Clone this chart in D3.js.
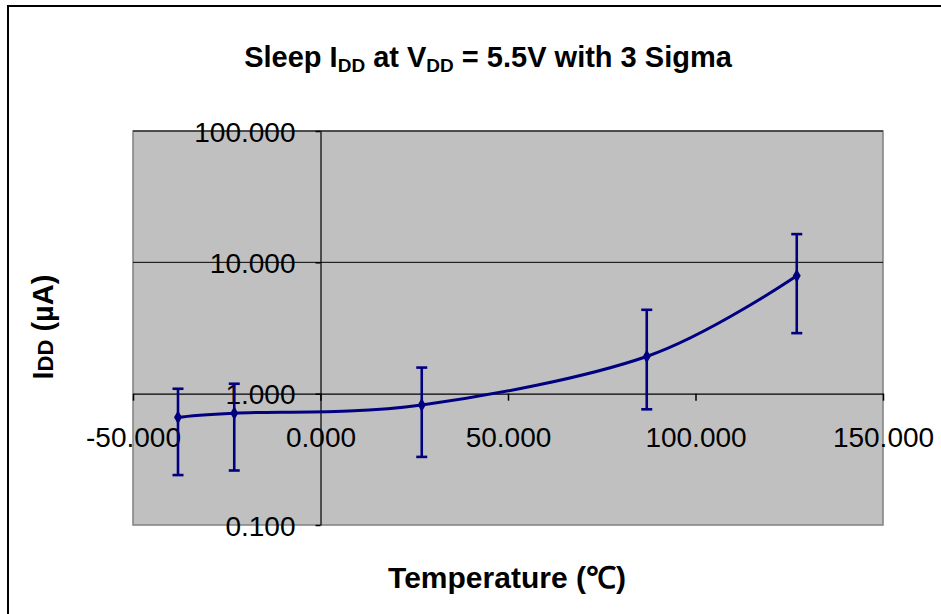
<!DOCTYPE html>
<html>
<head>
<meta charset="utf-8">
<script src="https://cdn.jsdelivr.net/npm/d3@7"></script>
<style>
  body { margin: 0; background: #fff; }
  svg { font-family: "Liberation Sans", Arial, sans-serif; }
</style>
</head>
<body>
<svg width="941" height="614"></svg>
<script>
// data
let temps = [-38, -23, 27, 87, 127];
let idd = [0.66, 0.71, 0.82, 1.92, 7.9];
let iddHigh = [1.09, 1.19, 1.58, 4.35, 16.4];
let iddLow = [0.24, 0.26, 0.33, 0.76, 2.89];

let xTicks = [-50, 0, 50, 100, 150];
let yTicks = [0.1, 1, 10, 100];

let points = temps.map((t, i) => ({t: t, v: idd[i], hi: iddHigh[i], lo: iddLow[i]}));

/******************/

let plot = {left: 133, top: 131, right: 883, bottom: 525};
let navy = "#000080";

let xScale = d3.scaleLinear()
              .domain([-50, 150])
              .range([plot.left, plot.right]);

let yScale = d3.scaleLog()
              .domain([0.1, 100])
              .range([plot.bottom, plot.top]);

// plain hyphen for negatives, like the original
let fmt = d => d3.format(".3f")(d).replace("\u2212", "-");

let svg = d3.select("svg");

// chart border (runs off the right / bottom)
svg.append("rect")
   .attr("x", 8).attr("y", 6)
   .attr("width", 960).attr("height", 640)
   .attr("fill", "none")
   .attr("stroke", "#000")
   .attr("stroke-width", 2);

// plot area
svg.append("rect")
   .attr("x", plot.left).attr("y", plot.top)
   .attr("width", plot.right - plot.left)
   .attr("height", plot.bottom - plot.top)
   .attr("fill", "#c0c0c0")
   .attr("stroke", "#808080")
   .attr("stroke-width", 1.5);

// horizontal gridlines
svg.selectAll(".grid")
   .data(yTicks.filter(d => d > 1))
 .enter().append("line")
   .attr("class", "grid")
   .attr("x1", plot.left).attr("x2", plot.right)
   .attr("y1", d => yScale(d)).attr("y2", d => yScale(d))
   .attr("stroke", "#000")
   .attr("stroke-width", 1);

// x axis crosses at 1.0
let xAxis = d3.axisBottom(xScale)
              .tickValues(xTicks)
              .tickFormat(fmt)
              .tickSize(7)
              .tickSizeOuter(0)
              .tickPadding(26);

let gx = svg.append("g")
   .attr("class", "x-axis")
   .attr("transform", `translate(0, ${yScale(1)})`)
   .call(xAxis);

// y axis crosses at 0
let yAxis = d3.axisLeft(yScale)
              .tickValues(yTicks)
              .tickFormat(fmt)
              .tickSize(5)
              .tickSizeOuter(0)
              .tickPadding(20);

let gy = svg.append("g")
   .attr("class", "y-axis")
   .attr("transform", `translate(${xScale(0)}, 0)`)
   .call(yAxis);

svg.selectAll(".x-axis, .y-axis").attr("font-family", null).attr("font-size", null);
svg.selectAll(".x-axis path, .y-axis path").attr("stroke", "#000").attr("stroke-width", 1.2);
svg.selectAll(".x-axis line, .y-axis line").attr("stroke", "#000").attr("stroke-width", 1.5);
svg.selectAll(".x-axis text, .y-axis text")
   .style("font-size", "28px")
   .attr("fill", "#000");
gy.selectAll("text").attr("dy", "0.36em");

/***************************/

// smoothed series line
let line = d3.line()
             .x(d => xScale(d.t))
             .y(d => yScale(d.v))
             .curve(d3.curveCardinal.tension(0));

svg.append("path")
   .datum(points)
   .attr("d", line)
   .attr("fill", "none")
   .attr("stroke", navy)
   .attr("stroke-width", 3);

// error bars
let bars = svg.selectAll(".err")
   .data(points)
 .enter().append("g")
   .attr("class", "err")
   .attr("stroke", navy)
   .attr("stroke-width", 2.6);

bars.append("line")
    .attr("x1", d => xScale(d.t)).attr("x2", d => xScale(d.t))
    .attr("y1", d => yScale(d.lo)).attr("y2", d => yScale(d.hi));
bars.append("line")
    .attr("x1", d => xScale(d.t) - 5.5).attr("x2", d => xScale(d.t) + 5.5)
    .attr("y1", d => yScale(d.hi)).attr("y2", d => yScale(d.hi));
bars.append("line")
    .attr("x1", d => xScale(d.t) - 5.5).attr("x2", d => xScale(d.t) + 5.5)
    .attr("y1", d => yScale(d.lo)).attr("y2", d => yScale(d.lo));

// diamond markers
svg.selectAll(".marker")
   .data(points)
 .enter().append("path")
   .attr("class", "marker")
   .attr("transform", d => `translate(${xScale(d.t)}, ${yScale(d.v)})`)
   .attr("d", d3.symbol().type(d3.symbolDiamond).size(55))
   .attr("fill", navy);

/***************************/

// title
let title = svg.append("text")
   .attr("x", 488).attr("y", 67)
   .attr("text-anchor", "middle")
   .style("font-size", "29px")
   .style("font-weight", "bold");
title.append("tspan").text("Sleep I");
title.append("tspan").attr("dy", 5).style("font-size", "19px").text("DD");
title.append("tspan").attr("dy", -5).text(" at V");
title.append("tspan").attr("dy", 5).style("font-size", "19px").text("DD");
title.append("tspan").attr("dy", -5).text(" = 5.5V with 3 Sigma");

// y axis label
let yLabel = svg.append("text")
   .attr("transform", "translate(53, 327) rotate(-90)")
   .attr("text-anchor", "middle")
   .style("font-size", "29px")
   .style("font-weight", "bold");
yLabel.append("tspan").text("I");
yLabel.append("tspan").style("font-size", "22px").text("DD");
yLabel.append("tspan").text(" (µA)");

// x axis label
svg.append("text")
   .attr("x", 507).attr("y", 588)
   .attr("text-anchor", "middle")
   .style("font-size", "30px")
   .style("font-weight", "bold")
   .text("Temperature (℃)");
</script>
</body>
</html>
